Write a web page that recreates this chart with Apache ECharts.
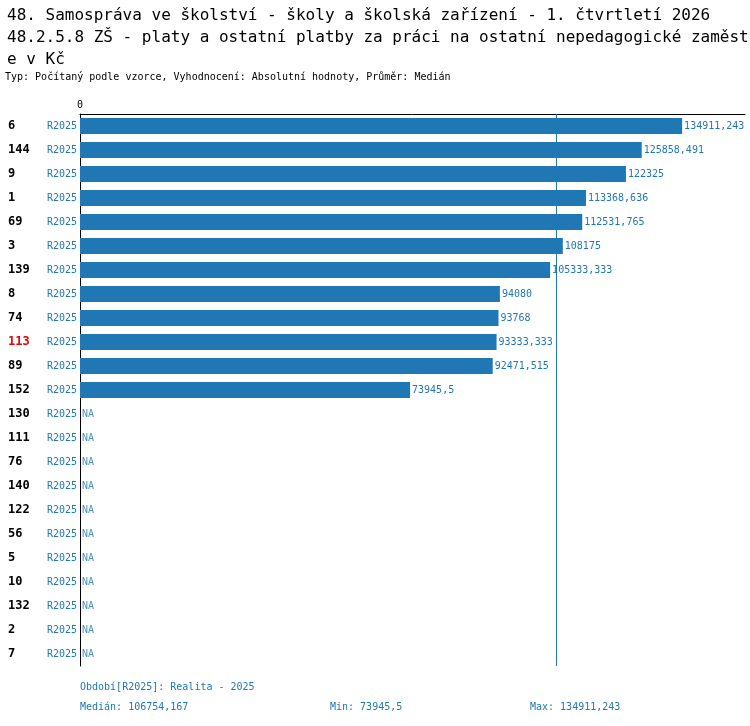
<!DOCTYPE html>
<html>
<head>
<meta charset="utf-8">
<script src="https://cdn.jsdelivr.net/npm/echarts@6/dist/echarts.min.js"></script>
<style>body{margin:0}#chart{width:750px;height:726px}</style>
</head>
<body>
<div id="chart"></div>
<script>
// kategorie (kódy) a hodnoty
const codes = ['6','144','9','1','69','3','139','8','74','113','89','152','130','111','76','140','122','56','5','10','132','2','7']
const period = 'R2025'
const values = [134911.243, 125858.491, 122325, 113368.636, 112531.765, 108175, 105333.333, 94080, 93768, 93333.333, 92471.515, 73945.5,
  null, null, null, null, null, null, null, null, null, null, null]
const highlight = '113'
const median = 106754.167
const minVal = 73945.5
const maxVal = 134911.243

const mono = 'DejaVu Sans Mono'
const blue = '#1f77b4'
const fmt = v => String(v).replace('.', ',')

const chart = echarts.init(document.querySelector('#chart'))
const option = {
  animation: false,
  textStyle: { fontFamily: mono },
  title: [
    { text: '48. Samospráva ve školství - školy a školská zařízení - 1. čtvrtletí 2026\n48.2.5.8 ZŠ - platy a ostatní platby za práci na ostatní nepedagogické zaměstnanc\ne v Kč',
      left: 2, top: 0, textStyle: { fontFamily: mono, fontSize: 16, fontWeight: 'normal', color: '#000', lineHeight: 22 } },
    { text: 'Typ: Počítaný podle vzorce, Vyhodnocení: Absolutní hodnoty, Průměr: Medián',
      left: 0, top: 67, textStyle: { fontFamily: mono, fontSize: 10, fontWeight: 'normal', color: '#000' } }
  ],
  grid: { left: 80, right: 5, top: 114, bottom: 60 },
  xAxis: {
    type: 'value', position: 'top', min: 0, max: 149000,
    axisLine: { show: true, lineStyle: { color: '#000' } },
    axisTick: { show: false }, splitLine: { show: false },
    axisLabel: { formatter: v => v === 0 ? '0' : '', fontSize: 10, color: '#000', margin: 4 }
  },
  yAxis: {
    type: 'category', inverse: true, data: codes,
    axisLine: { show: true, lineStyle: { color: '#000' } }, axisTick: { show: false },
    axisLabel: {
      align: 'left', margin: 72,
      formatter: c => `{${c === highlight ? 'r' : 'a'}|${c}}{b|${period}}`,
      rich: {
        a: { width: 39, fontFamily: mono, fontSize: 12, fontWeight: 'bold', color: '#000' },
        r: { width: 39, fontFamily: mono, fontSize: 12, fontWeight: 'bold', color: '#e00' },
        b: { fontFamily: mono, fontSize: 10, color: blue }
      }
    }
  },
  series: [
    {
      type: 'bar', barWidth: 16, itemStyle: { color: blue },
      data: values,
      label: { show: true, position: 'right', distance: 2, fontSize: 10, fontFamily: mono, color: blue,
        formatter: p => fmt(p.value) },
      markLine: {
        symbol: 'none', silent: true, label: { show: false },
        lineStyle: { color: blue, type: 'solid', width: 1 },
        data: [{ xAxis: median }]
      }
    },
    {
      type: 'scatter', symbolSize: 0,
      data: values.map(v => v === null ? 0 : null),
      label: { show: true, position: 'right', distance: 2, fontSize: 10, fontFamily: mono, color: blue, formatter: 'NA' }
    }
  ],
  graphic: [
    { type: 'text', left: 80, top: 682, style: { text: 'Období[R2025]: Realita - 2025', font: '10px DejaVu Sans Mono', fill: blue } },
    { type: 'text', left: 80, top: 702, style: { text: 'Medián: ' + fmt(median), font: '10px DejaVu Sans Mono', fill: blue } },
    { type: 'text', left: 330, top: 702, style: { text: 'Min: ' + fmt(minVal), font: '10px DejaVu Sans Mono', fill: blue } },
    { type: 'text', left: 530, top: 702, style: { text: 'Max: ' + fmt(maxVal), font: '10px DejaVu Sans Mono', fill: blue } }
  ]
}
chart.setOption(option)
</script>
</body>
</html>
